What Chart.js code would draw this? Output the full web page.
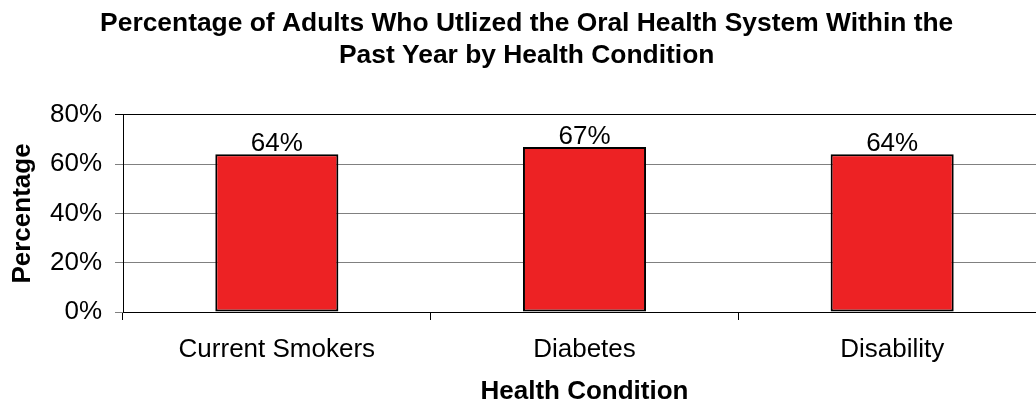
<!DOCTYPE html>
<html lang="en">
<head>
    <meta charset="UTF-8">
    <title>Oral Health System Use by Health Condition</title>
    <script src="https://cdn.jsdelivr.net/npm/chart.js"></script>
    <style>
        html, body {
            margin: 0;
            padding: 0;
            background: #fff;
            overflow: hidden;
        }
        /* plot runs a little past the right edge in the original, so the canvas is wider than the page */
        #wrap {
            position: absolute;
            left: 0;
            top: 0;
            width: 1060px;
            height: 407px;
        }
    </style>
</head>
<body>
    <div id="wrap">
        <canvas id="oralChart"></canvas>
    </div>

    <script>
        const categories = ['Current Smokers', 'Diabetes', 'Disability'];
        const percentages = [64, 67, 64];
        const yTickLabels = ['0%', '20%', '40%', '60%', '80%'];
        const chartTitle = ['Percentage of Adults Who Utlized the Oral Health System Within the', 'Past Year by Health Condition'];

        const fontFamily = '"Liberation Sans", Arial, Helvetica, sans-serif';

        // value labels sitting on top of each bar
        const barLabels = {
            id: 'barLabels',
            afterDatasetsDraw(chart) {
                const ctx = chart.ctx;
                const meta = chart.getDatasetMeta(0);
                ctx.save();
                ctx.font = '26px ' + fontFamily;
                ctx.fillStyle = '#000';
                ctx.textAlign = 'center';
                ctx.textBaseline = 'alphabetic';
                meta.data.forEach((bar, i) => {
                    ctx.fillText(percentages[i] + '%', bar.x, bar.y - 3);
                });
                ctx.restore();
            }
        };

        const ctx = document.getElementById('oralChart').getContext('2d');
        new Chart(ctx, {
            type: 'bar',
            data: {
                labels: categories,
                datasets: [{
                    data: percentages,
                    backgroundColor: '#ED2224',
                    borderColor: '#000',
                    borderWidth: 2,
                    borderSkipped: false,
                    barPercentage: 0.4,
                    categoryPercentage: 1
                }]
            },
            options: {
                responsive: true,
                maintainAspectRatio: false,
                animation: false,
                layout: {
                    padding: { left: 7.4, right: 14, top: 0, bottom: 0 }
                },
                plugins: {
                    legend: { display: false },
                    tooltip: { enabled: false },
                    title: {
                        display: true,
                        text: chartTitle,
                        color: '#000',
                        font: { family: fontFamily, size: 26.4, weight: 'bold', lineHeight: 1.23 },
                        padding: { top: 7.3, bottom: 42.7 }
                    }
                },
                scales: {
                    x: {
                        offset: true,
                        grid: {
                            offset: true,
                            drawOnChartArea: false,
                            drawTicks: true,
                            tickLength: 8,
                            color: '#000'
                        },
                        border: { color: '#000', width: 1 },
                        ticks: {
                            color: '#000',
                            padding: 14.7,
                            font: { family: fontFamily, size: 26 }
                        },
                        title: {
                            display: true,
                            text: 'Health Condition',
                            color: '#000',
                            font: { family: fontFamily, size: 26, weight: 'bold' },
                            padding: { top: 8, bottom: 0 }
                        },
                        afterFit(scale) { scale.height = 95; }
                    },
                    y: {
                        min: 0,
                        max: 80,
                        grid: {
                            color: c => (c.tick && c.tick.value === 80) ? '#000' : '#808080',
                            lineWidth: 1,
                            tickLength: 8
                        },
                        border: { color: '#000', width: 1 },
                        ticks: {
                            stepSize: 20,
                            color: '#000',
                            padding: 13,
                            font: { family: fontFamily, size: 26 },
                            callback: (v) => yTickLabels[v / 20]
                        },
                        title: {
                            display: true,
                            text: 'Percentage',
                            color: '#000',
                            font: { family: fontFamily, size: 26, weight: 'bold' },
                            padding: { top: 0, bottom: 0 }
                        },
                        afterFit(scale) { scale.width = 115.6; }
                    }
                }
            },
            plugins: [barLabels]
        });
    </script>
</body>
</html>
